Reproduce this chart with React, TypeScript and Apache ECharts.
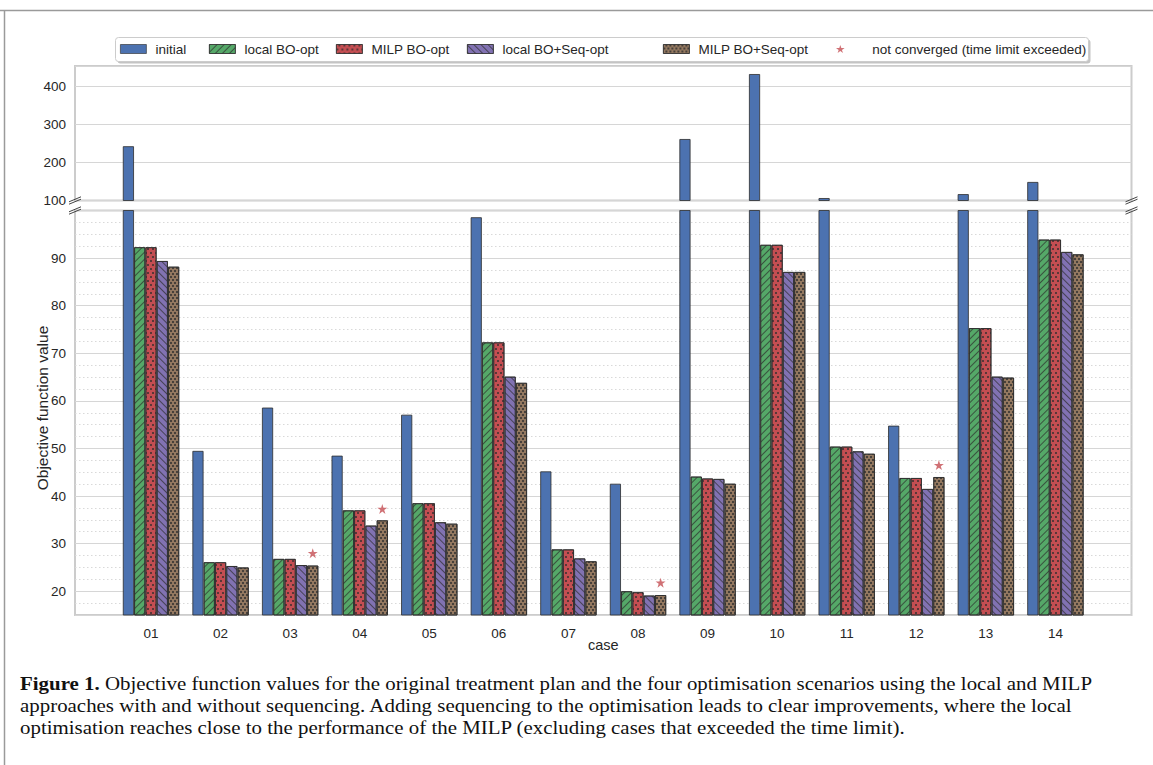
import React, { useEffect, useRef } from 'react';
import * as echarts from 'echarts';

// ---------- data ----------
const categories = ['01', '02', '03', '04', '05', '06', '07', '08', '09', '10', '11', '12', '13', '14'];
const initialValues = [243, 49.5, 58.6, 48.5, 57.1, 98.6, 45.2, 42.6, 262, 433, 106.6, 54.8, 117, 149];
const localBOValues = [92.3, 26.1, 26.8, 37.0, 38.5, 72.3, 28.8, 20.0, 44.1, 92.8, 50.4, 43.8, 75.3, 93.9];
const milpBOValues = [92.3, 26.1, 26.8, 37.0, 38.5, 72.3, 28.8, 19.8, 43.7, 92.8, 50.4, 43.8, 75.3, 93.9];
const localSeqValues = [89.4, 25.3, 25.5, 33.8, 34.5, 65.1, 26.9, 19.1, 43.6, 87.1, 49.4, 41.5, 65.1, 91.3];
const milpSeqValues = [88.2, 25.0, 25.4, 34.9, 34.2, 63.8, 26.3, 19.2, 42.6, 87.1, 48.9, 44.0, 64.9, 90.8];
const notConvergedValues = [null, null, 28.0, 37.3, null, null, null, 21.8, null, null, null, 46.5, null, null];

const seriesNames = ['initial', 'local BO-opt', 'MILP BO-opt', 'local BO+Seq-opt', 'MILP BO+Seq-opt'];
const starName = 'not converged (time limit exceeded)';
const xAxisTitle = 'case';
const yAxisTitle = 'Objective function value';

const topRange = { min: 100, max: 454, interval: 100 };
const bottomRange = { min: 15, max: 100, step: 10 };

const captionLines = [
  'Objective function values for the original treatment plan and the four optimisation scenarios using the local and MILP',
  'approaches with and without sequencing. Adding sequencing to the optimisation leads to clear improvements, where the local',
  'optimisation reaches close to the performance of the MILP (excluding cases that exceeded the time limit).',
];

// ---------- layout / style ----------
const W = 1153;
const H = 765;
const FRAME_L = 75;
const FRAME_R = 1131.5;
const TOP_Y = 66;
const BREAK_T = 200.5;
const BREAK_B = 210.5;
const BOT_Y = 615;
const STEP = 69.57;
const FIRST_CENTER = 151;
const BAR_W = 11.3;
const FONT = 'Liberation Sans, Arial, sans-serif';
const SERIF = 'Liberation Serif, Times New Roman, serif';
const TEXT_COLOR = '#262626';
const GRID_COLOR = '#d6d6d6';
const EDGE = 'rgba(45,45,45,0.8)';
const HATCH = 'rgba(45,45,45,0.7)';

const colors = ['#4C72B0', '#55A868', '#C44E52', '#8172B2', '#937860'];
const decals: any[] = [
  undefined,
  { symbol: 'rect', symbolSize: 1, dashArrayX: [1, 0], dashArrayY: [1, 4], rotation: -Math.PI / 4, color: HATCH },
  { symbol: 'rect', symbolSize: 1, dashArrayX: [[2, 3], [0, 2, 2, 1]], dashArrayY: [2, 2], rotation: 0, color: HATCH },
  { symbol: 'rect', symbolSize: 1, dashArrayX: [1, 0], dashArrayY: [1, 4], rotation: Math.PI / 4, color: HATCH },
  { symbol: 'rect', symbolSize: 1, dashArrayX: [[2, 2], [0, 2, 2, 0]], dashArrayY: [2, 1], rotation: 0, color: 'rgba(45,45,45,0.75)' },
];
const seriesData = [initialValues, localBOValues, milpBOValues, localSeqValues, milpSeqValues];

const STAR = 'path://M50,0 L61.8,35.1 L100,35.1 L69.1,57 L80.9,92.7 L50,70.8 L19.1,92.7 L30.9,57 L0,35.1 L38.2,35.1 Z';

const legendLefts = [120, 209, 336, 467, 663, 836];

function buildOption() {
  const barLeft = FIRST_CENTER - STEP / 2;
  const barWidthTotal = STEP * categories.length;
  const frameRight = W - FRAME_R;
  const barRight = W - (barLeft + barWidthTotal);

  const grids = [
    { left: FRAME_L, right: frameRight, top: TOP_Y, height: BREAK_T - TOP_Y, show: true, borderColor: '#cccccc', borderWidth: 2, backgroundColor: 'transparent' },
    { left: barLeft, right: barRight, top: TOP_Y, height: BREAK_T - TOP_Y },
    { left: FRAME_L, right: frameRight, top: BREAK_B, height: BOT_Y - BREAK_B, show: true, borderColor: '#cccccc', borderWidth: 2, backgroundColor: 'transparent' },
    { left: barLeft, right: barRight, top: BREAK_B, height: BOT_Y - BREAK_B },
  ].map((g) => ({ ...g, outerBoundsMode: 'none', containLabel: false }));

  const labelStyle = { color: TEXT_COLOR, fontSize: 13.5, fontFamily: FONT };

  const xAxes = [
    { type: 'value', gridIndex: 0, min: 0, max: 1, show: false },
    { type: 'category', gridIndex: 1, data: categories, show: false },
    { type: 'value', gridIndex: 2, min: 0, max: 1, show: false },
    {
      type: 'category', gridIndex: 3, data: categories,
      axisLine: { show: false }, axisTick: { show: false },
      axisLabel: { ...labelStyle, margin: 11 },
    },
  ];

  const yAxes = [
    {
      type: 'value', gridIndex: 0, min: topRange.min, max: topRange.max, interval: topRange.interval,
      axisLine: { show: false }, axisTick: { show: false },
      axisLabel: { ...labelStyle, margin: 9, showMinLabel: true, showMaxLabel: false },
      splitLine: { show: true, lineStyle: { color: GRID_COLOR, width: 1 } },
    },
    { type: 'value', gridIndex: 1, min: topRange.min, max: topRange.max, show: false },
    {
      type: 'value', gridIndex: 2, min: bottomRange.min, max: bottomRange.max,
      minInterval: bottomRange.step, maxInterval: bottomRange.step, splitNumber: 9,
      axisLine: { show: false }, axisTick: { show: false },
      axisLabel: { ...labelStyle, margin: 9, showMinLabel: false, showMaxLabel: false },
      splitLine: { show: true, lineStyle: { color: GRID_COLOR, width: 1 } },
      minorTick: { show: false, splitNumber: 4 },
      minorSplitLine: { show: true, lineStyle: { color: '#d9d9d9', width: 1, type: [1.5, 2.5] } },
    },
    { type: 'value', gridIndex: 3, min: bottomRange.min, max: bottomRange.max, show: false },
  ];

  const series: any[] = [];
  [1, 3].forEach((gi) => {
    seriesNames.forEach((name, i) => {
      series.push({
        name,
        type: 'bar',
        xAxisIndex: gi,
        yAxisIndex: gi,
        data: seriesData[i],
        barWidth: BAR_W,
        barGap: '0%',
        clip: true,
        itemStyle: {
          color: colors[i],
          borderColor: EDGE,
          borderWidth: 1,
          ...(decals[i] ? { decal: decals[i] } : {}),
        },
        emphasis: { disabled: true },
      });
    });
  });
  series.push({
    name: starName,
    type: 'scatter',
    xAxisIndex: 3,
    yAxisIndex: 3,
    data: notConvergedValues,
    symbol: STAR,
    symbolSize: 10,
    symbolOffset: [2 * BAR_W, 0],
    itemStyle: { color: '#C44E52' },
    z: 5,
  });

  const legendNames = [...seriesNames, starName];
  const legends = legendNames.map((name, i) => ({
    data: [{ name, icon: i === 5 ? STAR : 'rect' }],
    left: legendLefts[i],
    top: 42,
    padding: 0,
    itemWidth: 26,
    itemHeight: i === 5 ? 8 : 9,
    selectedMode: false,
    itemStyle: { borderWidth: 0.8 },
    textStyle: { ...labelStyle, padding: [0, 0, 0, i === 5 ? 14 : 4] },
  }));

  // break marks
  const breakMarks: any[] = [];
  [FRAME_L, FRAME_R].forEach((x) => {
    [BREAK_T, BREAK_B].forEach((y) => {
      [-1.2, 1.2].forEach((o) => {
        breakMarks.push({
          type: 'line',
          shape: { x1: x - 6, y1: y + 2.5 + o, x2: x + 6, y2: y - 2.5 + o },
          style: { stroke: '#444', lineWidth: 1 },
          z: 10,
        });
      });
    });
  });

  const graphic: any[] = [
    // outer figure frame
    { type: 'line', shape: { x1: 0, y1: 10.5, x2: W, y2: 10.5 }, style: { stroke: '#9a9a9a', lineWidth: 1.5 }, z: 0 },
    { type: 'line', shape: { x1: 4.5, y1: 10, x2: 4.5, y2: H }, style: { stroke: '#9a9a9a', lineWidth: 1.5 }, z: 0 },
    // legend frame (shadow + box)
    { type: 'rect', shape: { x: 117.5, y: 39.5, width: 973, height: 24, r: 3 }, style: { fill: '#c4c4c4' }, z: 0 },
    { type: 'rect', shape: { x: 115.5, y: 37.5, width: 973, height: 24, r: 3 }, style: { fill: '#ffffff', stroke: '#cccccc', lineWidth: 1 }, z: 1 },
    // y axis title
    {
      type: 'text', x: 42, y: 408, rotation: Math.PI / 2,
      style: { text: yAxisTitle, fill: TEXT_COLOR, font: `15.5px ${FONT}`, align: 'center', verticalAlign: 'middle' },
      z: 5,
    },
    // x axis title
    {
      type: 'text', x: (FRAME_L + FRAME_R) / 2, y: 645,
      style: { text: xAxisTitle, fill: TEXT_COLOR, font: `14.5px ${FONT}`, align: 'center', verticalAlign: 'middle' },
      z: 5,
    },
    // caption
    {
      type: 'text', x: 20, y: 672, scaleX: 1.1,
      style: {
        text: '{b|Figure 1.} ' + captionLines.join('\n'),
        fill: '#111',
        fontFamily: SERIF,
        fontSize: 19,
        lineHeight: 22,
        rich: { b: { fontWeight: 'bold', fontSize: 19, fontFamily: SERIF, fill: '#111', lineHeight: 22 } },
      },
      z: 5,
    },
    ...breakMarks,
  ];

  return {
    animation: false,
    backgroundColor: '#ffffff',
    grid: grids,
    xAxis: xAxes,
    yAxis: yAxes,
    legend: legends,
    series,
    graphic,
    tooltip: { show: false },
  };
}

export default function App() {
  const ref = useRef<HTMLDivElement>(null);
  useEffect(() => {
    if (!ref.current) return;
    const chart = echarts.init(ref.current, null, { renderer: 'svg' });
    chart.setOption(buildOption() as any);
    return () => chart.dispose();
  }, []);
  return (
    <div
      ref={ref}
      style={{ position: 'absolute', left: 0, top: 0, width: W, height: H, background: '#fff' }}
    />
  );
}
